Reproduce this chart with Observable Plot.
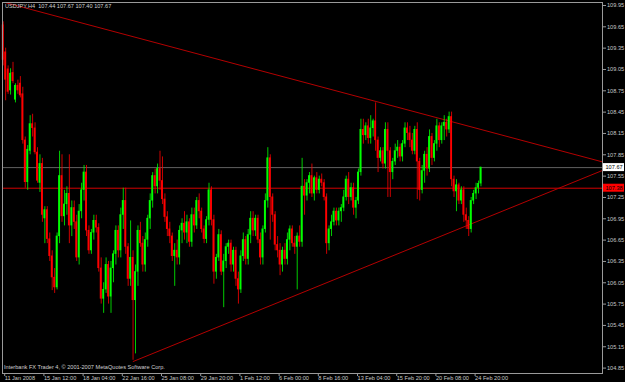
<!DOCTYPE html>
<html><head><meta charset="utf-8">
<script src="https://cdn.jsdelivr.net/npm/d3@7"></script>
<script src="https://cdn.jsdelivr.net/npm/@observablehq/plot@0.6"></script>
<style>
html,body{margin:0;padding:0;background:#000;}
#chart{width:625px;height:382px;overflow:hidden;}
</style></head><body><div id="chart"></div>
<script>
const symbolTitle = "USDJPY,H4  107.44 107.67 107.40 107.67";
const copyright = "Interbank FX Trader 4, \u00a9 2001-2007 MetaQuotes Software Corp.";

const opens = [
109.67,109.29,109.05,108.75,109.00,108.62,108.82,108.85,108.70,108.05,
107.46,107.90,108.28,108.22,107.88,107.45,107.72,106.95,107.07,106.66,
106.42,106.12,105.98,106.70,107.55,106.98,107.15,107.30,106.85,107.10,
106.90,106.40,107.05,107.35,107.60,106.78,106.50,106.75,106.92,106.82,
106.25,105.82,105.95,106.30,105.85,106.25,106.45,106.78,106.50,107.00,
107.20,106.55,106.10,106.40,105.80,106.20,106.78,106.60,106.30,106.65,
106.95,107.20,107.55,107.40,107.65,107.48,107.22,106.97,106.80,106.70,
106.42,106.50,106.40,106.78,106.88,106.75,106.90,106.62,107.00,106.85,
107.20,107.05,106.80,106.66,106.93,107.35,106.93,106.20,106.40,106.72,
106.20,106.35,106.55,106.60,106.30,106.50,106.10,105.95,106.42,106.65,
106.38,106.72,106.95,106.78,106.95,106.65,106.40,106.80,107.20,107.80,
107.25,107.00,106.58,106.50,106.30,106.50,106.38,106.65,106.80,106.60,
106.55,106.70,106.62,107.40,107.27,107.45,107.55,107.30,107.52,107.35,
107.50,107.45,107.25,106.60,106.80,106.90,107.05,106.92,107.05,107.10,
107.25,107.50,107.25,107.38,107.10,107.20,107.60,108.20,108.12,108.25,
108.08,108.22,108.32,108.05,107.80,107.90,107.72,108.20,107.90,107.60,
107.75,107.90,107.95,107.82,108.00,108.22,108.15,108.05,107.90,108.20,
107.75,107.35,107.62,107.85,107.65,108.10,107.80,108.00,108.25,108.05,
108.25,108.30,108.20,108.38,107.50,107.33,107.42,107.20,107.35,107.00,
106.92,106.80,107.20,107.30,107.38,107.44];

const highs = [
109.72,109.35,109.10,109.06,109.15,108.85,108.90,108.95,108.80,108.10,
107.98,108.40,108.42,108.30,107.95,107.85,107.80,107.12,107.12,106.75,
106.50,106.25,106.75,107.90,107.85,107.35,107.40,107.85,107.20,107.20,
107.00,107.15,107.45,107.70,107.70,106.85,106.80,107.00,107.00,106.88,
106.40,106.05,106.40,106.35,106.35,106.50,106.85,106.85,107.10,107.38,
107.38,106.60,106.92,106.50,106.30,106.85,106.90,106.70,106.75,107.00,
107.30,107.60,107.65,107.72,107.90,107.82,107.30,107.05,106.90,106.75,
106.60,106.65,106.85,106.95,107.05,107.00,106.95,107.10,107.10,107.25,
107.30,107.10,106.85,106.98,107.45,107.40,107.00,106.45,106.80,106.78,
106.45,106.60,106.65,106.65,106.55,106.55,106.20,106.50,106.75,106.70,
106.80,107.05,107.05,107.00,107.00,106.75,106.85,107.30,107.95,107.85,
107.30,107.05,106.70,106.60,106.55,106.60,106.75,106.85,106.85,106.70,
106.75,106.85,107.80,107.50,107.50,107.60,107.72,107.55,107.60,107.55,
107.58,107.50,107.30,106.85,107.00,107.10,107.10,107.10,107.15,107.35,
107.55,107.60,107.45,107.45,107.25,107.65,108.35,108.35,108.30,108.35,
108.40,108.35,108.58,108.10,107.95,107.95,108.30,108.30,107.95,107.80,
108.00,108.05,108.00,108.05,108.30,108.30,108.25,108.15,108.25,108.30,
107.80,107.70,107.90,107.95,108.20,108.15,108.05,108.35,108.30,108.30,
108.40,108.35,108.45,108.45,107.55,107.50,107.45,107.40,107.40,107.10,
106.98,107.25,107.35,107.45,107.48,107.67];

const lows = [
109.10,108.61,108.70,108.69,108.85,108.58,108.70,108.65,108.00,107.38,
107.35,107.85,108.10,107.85,107.45,107.32,106.90,106.60,106.60,106.35,
105.94,105.90,105.95,106.60,106.90,106.85,107.00,106.60,106.70,106.80,
106.35,106.30,106.95,107.20,106.70,106.45,106.45,106.65,106.75,106.20,
105.75,105.62,105.90,105.75,105.62,106.05,106.30,106.40,106.40,106.80,
106.45,106.00,106.00,104.96,105.05,106.00,106.55,106.20,106.20,106.55,
106.80,107.10,107.30,107.30,107.35,107.15,106.90,106.70,106.60,106.35,
106.00,106.30,106.30,106.60,106.65,106.60,106.55,106.55,106.75,106.80,
106.95,106.75,106.60,106.60,106.85,106.85,106.03,106.10,106.35,106.15,
105.70,106.25,106.45,106.20,106.20,106.00,105.75,105.90,106.35,106.30,
106.30,106.60,106.70,106.70,106.60,106.30,106.30,106.75,107.10,106.65,
106.90,106.50,106.40,106.15,106.20,106.30,106.30,106.50,106.55,106.45,
105.95,106.55,106.55,107.00,107.20,107.30,107.25,107.20,107.30,107.30,
107.40,107.20,106.45,106.50,106.70,106.85,106.85,106.85,106.90,107.05,
107.20,107.15,107.20,107.00,106.95,107.15,107.55,108.00,108.05,108.00,
108.00,108.10,107.90,107.60,107.75,107.65,107.65,107.25,107.25,107.50,
107.70,107.80,107.75,107.75,107.95,108.05,107.95,107.85,107.85,107.22,
107.20,107.30,107.45,107.55,107.60,107.70,107.75,107.90,107.95,108.00,
108.05,108.10,108.15,107.40,107.25,107.05,107.15,107.15,106.90,106.80,
106.70,106.75,107.15,107.22,107.30,107.40];

const closes = [
109.18,108.90,108.73,108.99,108.88,108.82,108.75,108.68,108.05,107.46,
107.92,108.28,108.22,107.88,107.48,107.72,107.00,107.07,106.66,106.42,
106.12,105.98,106.70,107.55,106.98,107.15,107.30,106.85,107.10,106.90,
106.40,107.05,107.35,107.60,106.78,106.50,106.75,106.92,106.82,106.25,
105.82,105.95,106.30,105.85,106.25,106.45,106.78,106.50,107.00,107.20,
106.55,106.10,106.40,105.80,106.20,106.78,106.60,106.30,106.65,106.95,
107.20,107.55,107.40,107.65,107.48,107.22,106.97,106.80,106.70,106.42,
106.50,106.40,106.78,106.88,106.75,106.90,106.62,107.00,106.85,107.20,
107.05,106.80,106.66,106.93,107.35,106.93,106.20,106.40,106.72,106.20,
106.35,106.55,106.60,106.30,106.50,106.10,105.95,106.42,106.65,106.38,
106.72,106.95,106.78,106.95,106.65,106.40,106.80,107.20,107.80,107.25,
107.00,106.58,106.50,106.30,106.50,106.38,106.65,106.80,106.60,106.55,
106.70,106.62,107.40,107.27,107.45,107.55,107.30,107.52,107.35,107.50,
107.45,107.25,106.60,106.80,106.90,107.05,106.92,107.05,107.10,107.25,
107.50,107.25,107.38,107.10,107.20,107.60,108.20,108.12,108.25,108.08,
108.22,108.32,108.05,107.80,107.90,107.72,108.20,107.90,107.60,107.75,
107.90,107.95,107.82,108.00,108.22,108.15,108.05,107.90,108.20,107.75,
107.35,107.62,107.85,107.65,108.10,107.80,108.00,108.25,108.05,108.25,
108.30,108.20,108.38,107.50,107.33,107.42,107.20,107.35,107.00,106.92,
106.80,107.20,107.30,107.38,107.44,107.67];

const timeTickBars = [0,16,32,48,64,80,96,112,128,144,160,176,192];
const timeTickLabels = ["11 Jan 2008","15 Jan 12:00","18 Jan 04:00","22 Jan 16:00","25 Jan 08:00","29 Jan 20:00","1 Feb 12:00","6 Feb 00:00","8 Feb 16:00","13 Feb 04:00","15 Feb 20:00","20 Feb 08:00","24 Feb 20:00"];
const priceTicks = [104.85,105.15,105.45,105.75,106.05,106.35,106.65,106.95,107.25,107.55,107.85,108.15,108.45,108.75,109.05,109.35,109.65,109.95];
const bidPrice = 107.67;
const levelPrice = 107.38;
const upperTrendBars = [0.94, 244.6];
const upperTrendPrices = [109.99, 107.75];
const lowerTrendBars = [53.06, 244.6];
const lowerTrendPrices = [104.943, 107.63];

const bars = opens.map((o, i) => ({i, o, h: Math.max(highs[i], o, closes[i]), l: Math.min(lows[i], o, closes[i]), c: closes[i]}));
const upper = upperTrendBars.map((b, k) => ({b, p: upperTrendPrices[k]}));
const lower = lowerTrendBars.map((b, k) => ({b, p: lowerTrendPrices[k]}));
const labelOf = new Map(timeTickBars.map((b, k) => [b, timeTickLabels[k]]));
const col = d => d.c >= d.o ? "#00ff00" : "#ff0000";
const FONT = "Liberation Sans, Arial, sans-serif";
const FS = 5.6;

const plot = Plot.plot({
  width: 625, height: 382,
  marginTop: 2, marginBottom: 9, marginLeft: 2, marginRight: 23,
  style: {background: "#000", color: "#c8c8c8", fontFamily: FONT, fontSize: FS + "px"},
  x: {type: "linear", domain: [-0.286, 244.6], axis: null},
  y: {type: "linear", domain: [104.774, 109.992], axis: null},
  marks: [
    Plot.ruleY([bidPrice], {stroke: "#606060", strokeWidth: 1}),
    Plot.ruleY([levelPrice], {stroke: "#d40000", strokeWidth: 1}),
    Plot.line(upper, {x: "b", y: "p", stroke: "#b30000", strokeWidth: 1}),
    Plot.line(lower, {x: "b", y: "p", stroke: "#b30000", strokeWidth: 1}),
    Plot.ruleX(bars, {x: "i", y1: "l", y2: "h", stroke: col, strokeWidth: 0.8}),
    Plot.rect(bars, {x1: d => d.i - 0.38, x2: d => d.i + 0.38, y1: d => Math.min(d.o, d.c), y2: d => Math.max(d.o, d.c) + 0.006, fill: col}),
    Plot.frame({stroke: "#9a9a9a"}),
    Plot.axisY(priceTicks, {anchor: "right", tickSize: 3, tickPadding: 1.5, tickFormat: d => d.toFixed(2), fontSize: FS, stroke: "#9a9a9a", fill: "#c8c8c8"}),
    Plot.axisX(timeTickBars, {anchor: "bottom", tickSize: 3, tickPadding: 0, tickFormat: d => labelOf.get(d), textAnchor: "start", dx: 1.5, fontSize: FS, stroke: "#9a9a9a", fill: "#c8c8c8"}),
    Plot.text([symbolTitle], {frameAnchor: "top-left", text: d => d, textAnchor: "start", lineAnchor: "top", dx: 2.5, dy: 1.5, fontSize: FS, fill: "#d0d0d0"}),
    Plot.text([copyright], {frameAnchor: "bottom-left", text: d => d, textAnchor: "start", lineAnchor: "bottom", dx: 1.5, dy: -5, fontSize: FS, fill: "#d0d0d0"})
  ]
});

const svg = d3.select(plot);
const yS = plot.scale("y");
function tag(price, bg, fg) {
  const y = yS.apply(price);
  const g = svg.append("g");
  g.append("rect").attr("x", 603).attr("y", y - 4).attr("width", 21).attr("height", 8).attr("fill", bg);
  g.append("text").attr("x", 605.5).attr("y", y).attr("dy", "0.35em").attr("text-anchor", "start")
    .attr("font-family", FONT).attr("font-size", FS).attr("fill", fg).text(price.toFixed(2));
}
tag(bidPrice, "#ffffff", "#000000");
tag(levelPrice, "#ff0000", "#000000");

document.getElementById("chart").appendChild(plot);
</script></body></html>
